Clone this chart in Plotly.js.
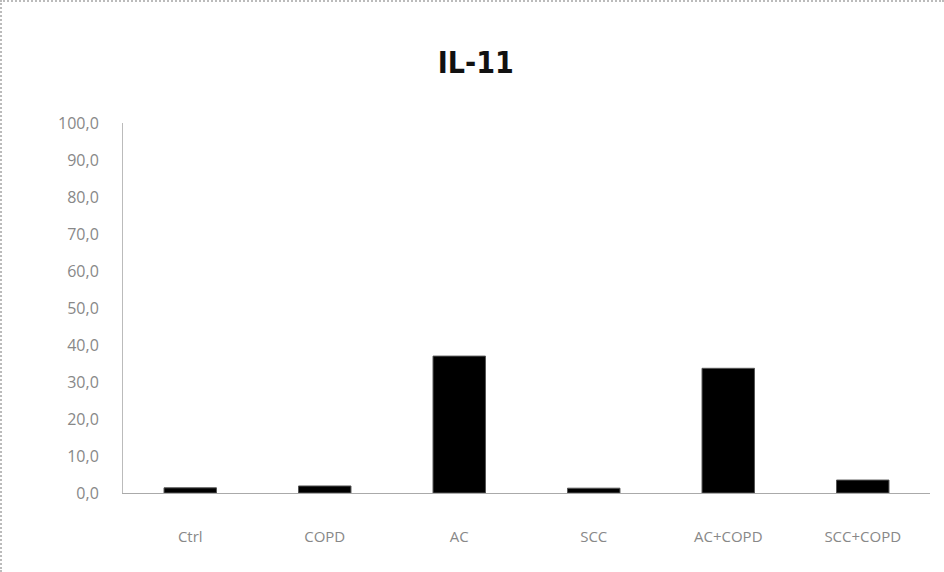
<!DOCTYPE html>
<html><head><meta charset="utf-8">
<script src="https://cdn.plot.ly/plotly-3.0.1.min.js"></script>
<style>
html,body{margin:0;padding:0;background:#fff;}
#chart{width:944px;height:572px;box-sizing:border-box;border-top:2px dotted #bbb;border-left:2px dotted #bbb;}
</style></head>
<body><div id="chart"></div>
<script>
const categories = ["Ctrl", "COPD", "AC", "SCC", "AC+COPD", "SCC+COPD"];
const values = [1.4, 1.9, 37.0, 1.3, 33.7, 3.5];
const yTicks = [0,10,20,30,40,50,60,70,80,90,100];

Plotly.newPlot('chart', [{
  type: 'bar',
  x: categories,
  y: values,
  width: 0.39,
  marker: {color: '#000', line: {color: '#555', width: 1}},
  hoverinfo: 'x+y'
}], {
  width: 942, height: 570,
  separators: ', ',
  margin: {l: 121, r: 14, t: 121, b: 79},
  paper_bgcolor: '#fff', plot_bgcolor: '#fff',
  title: {text: '<b>IL-11</b>', x: 0.503, xanchor: 'center', y: 0.893, yanchor: 'middle',
          font: {family: 'Liberation Sans Narrow, DejaVu Sans Condensed, Liberation Sans', size: 30, color: '#111'}},
  xaxis: {
    showline: true, linecolor: '#aaa', linewidth: 1,
    ticks: '', ticklen: 4, tickcolor: '#aaa',
    tickfont: {family: 'Open Sans, DejaVu Sans', size: 15, color: '#888'},
    ticklabelstandoff: 30,
    showgrid: false, zeroline: false
  },
  yaxis: {
    range: [0, 100], tickvals: yTicks, tickformat: '.1f',
    showline: true, linecolor: '#bbb', linewidth: 1,
    ticks: '', showgrid: false, zeroline: false,
    tickfont: {family: 'Open Sans, DejaVu Sans', size: 16, color: '#888'},
    ticklabelstandoff: 20
  },
  showlegend: false,
  bargap: 0.6
}, {displayModeBar: false, staticPlot: true});
</script></body></html>
